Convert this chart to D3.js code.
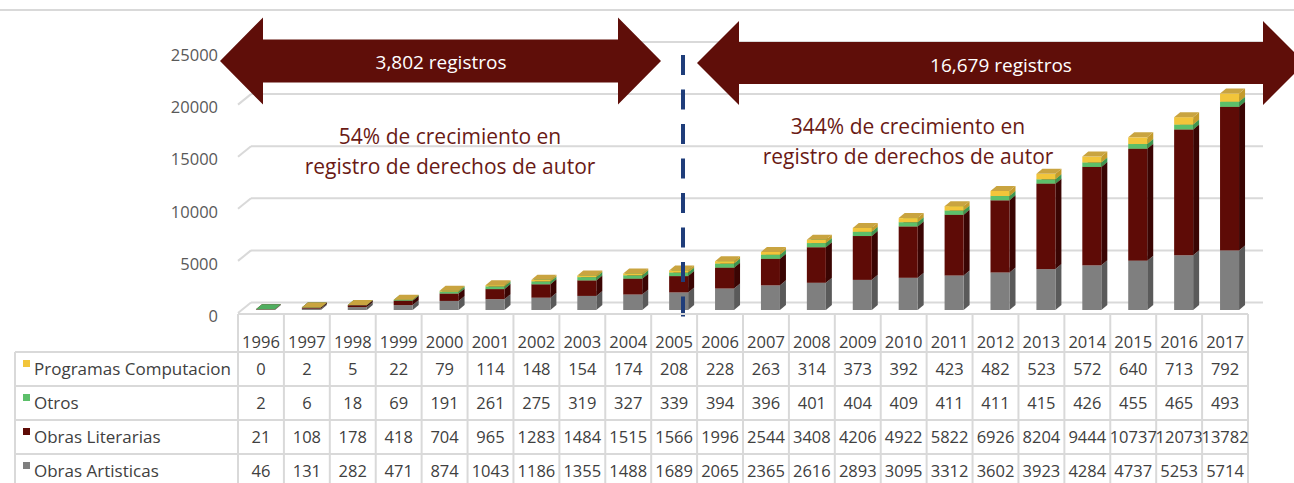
<!DOCTYPE html>
<html><head><meta charset="utf-8">
<script src="https://cdn.jsdelivr.net/npm/d3@7"></script>
<style>html,body{margin:0;padding:0;background:#fff;}svg{display:block;font-family:"Open Sans",sans-serif;}</style>
</head><body>
<svg id="c" width="1294" height="483"></svg>
<script>
const years = ["1996","1997","1998","1999","2000","2001","2002","2003","2004","2005","2006","2007","2008","2009","2010","2011","2012","2013","2014","2015","2016","2017"];
const programas = [0,2,5,22,79,114,148,154,174,208,228,263,314,373,392,423,482,523,572,640,713,792];
const otros = [2,6,18,69,191,261,275,319,327,339,394,396,401,404,409,411,411,415,426,455,465,493];
const literarias = [21,108,178,418,704,965,1283,1484,1515,1566,1996,2544,3408,4206,4922,5822,6926,8204,9444,10737,12073,13782];
const artisticas = [46,131,282,471,874,1043,1186,1355,1488,1689,2065,2365,2616,2893,3095,3312,3602,3923,4284,4737,5253,5714];
const seriesNames = ["Programas Computacion","Otros","Obras Literarias","Obras Artisticas"];
const yTicks = [0,5000,10000,15000,20000,25000];
const arrowLabels = ["3,802 registros","16,679 registros"];
const noteLeft = ["54% de crecimiento en","registro de derechos de autor"];
const noteRight = ["344% de crecimiento en","registro de derechos de autor"];

const svg = d3.select("#c");
const x = d3.scaleBand().domain(years).range([238,1248]).padding(0);
const y = d3.scaleLinear().domain([0,25000]).range([313,52.5]);
const DX = 13, DY = -10.5; // floor depth

// top border line
svg.append("line").attr("x1",0).attr("x2",1294).attr("y1",10).attr("y2",10).attr("stroke","#d9d9d9").attr("stroke-width",2);

// gridlines: back wall + side wall diagonals
const g = svg.append("g").attr("stroke","#d9d9d9").attr("stroke-width",2).attr("fill","none");
yTicks.forEach(t=>{
  g.append("line").attr("x1",x.range()[0]+DX).attr("x2",x.range()[1]+15).attr("y1",y(t)+DY).attr("y2",y(t)+DY);
  g.append("line").attr("x1",x.range()[0]).attr("x2",x.range()[0]+DX).attr("y1",y(t)).attr("y2",y(t)+DY);
});

// y labels
svg.append("g").selectAll("text").data(yTicks).join("text")
  .attr("x",218).attr("y",d=>y(d)+3).attr("dy","0.35em").attr("text-anchor","end")
  .attr("font-size","16.5px").attr("fill","#595959").text(d=>d);

// bars
const stackKeys = ["artisticas","literarias","otros","programas"];
const rows = years.map((yr,i)=>({year:yr, artisticas:artisticas[i], literarias:literarias[i], otros:otros[i], programas:programas[i]}));
const stacked = d3.stack().keys(stackKeys)(rows);
const colors = {
  artisticas:{front:"#7f7f7f", side:"#5a5a5a", top:"#a0a0a0"},
  literarias:{front:"#5e0b06", side:"#3a0503", top:"#7c1d14"},
  otros:{front:"#5cbf6a", side:"#3e9550", top:"#4fae5f"},
  programas:{front:"#f2c53a", side:"#c49b2c", top:"#c9a440"}
};
const bw = 19, bdx = 6, bdy = -5, offX = -5, offY = -3;
const bars = svg.append("g");
years.forEach((yr,i)=>{
  const cx = x(yr) + x.bandwidth()/2;
  const x0 = cx + offX, x1 = x0 + bw;
  stacked.forEach(s=>{
    const c = colors[s.key];
    const y0 = y(s[i][0]) + offY, y1 = y(s[i][1]) + offY;
    if (y0 - y1 <= 0) return;
    bars.append("path").attr("fill",c.side)
      .attr("d",`M${x1},${y0}L${x1+bdx},${y0+bdy}L${x1+bdx},${y1+bdy}L${x1},${y1}Z`);
    bars.append("rect").attr("fill",c.front).attr("x",x0).attr("y",y1).attr("width",bw).attr("height",y0-y1);
    bars.append("path").attr("fill",c.top)
      .attr("d",`M${x0},${y1}L${x0+bdx},${y1+bdy}L${x1+bdx},${y1+bdy}L${x1},${y1}Z`);
  });
});

// dashed divider
svg.append("line").attr("x1",683).attr("x2",683).attr("y1",55).attr("y2",318)
  .attr("stroke","#1f3d7a").attr("stroke-width",4).attr("stroke-dasharray","20,14.5");

// arrows
function dblArrow(xl, xr, cy, headW, headH, shaftH){
  const a = xl+headW, b = xr-headW;
  return `M${xl},${cy}L${a},${cy-headH}L${a},${cy-shaftH}L${b},${cy-shaftH}L${b},${cy-headH}L${xr},${cy}L${b},${cy+headH}L${b},${cy+shaftH}L${a},${cy+shaftH}L${a},${cy+headH}Z`;
}
svg.append("path").attr("fill","#5f0e09").attr("d",dblArrow(220,661,61,43,43.5,21.5));
svg.append("path").attr("fill","#5f0e09").attr("d",dblArrow(697,1305,63,42,42,21));
svg.append("text").attr("x",441).attr("y",62).attr("dy","0.35em").attr("text-anchor","middle")
  .attr("font-size","19px").attr("fill","#fff").text(arrowLabels[0]);
svg.append("text").attr("x",1001).attr("y",65).attr("dy","0.35em").attr("text-anchor","middle")
  .attr("font-size","19px").attr("fill","#fff").text(arrowLabels[1]);

// notes
noteLeft.forEach((t,i)=>svg.append("text").attr("x",450).attr("y",137+i*30).attr("dy","0.35em")
  .attr("text-anchor","middle").attr("font-size","21px").attr("fill","#6a1a15").text(t));
noteRight.forEach((t,i)=>svg.append("text").attr("x",908).attr("y",127+i*30).attr("dy","0.35em")
  .attr("text-anchor","middle").attr("font-size","21px").attr("fill","#6a1a15").text(t));

// data table
const tbl = svg.append("g");
const rowTop = 352, rowH = 34, tableLeft = 15;
const tableSeries = [programas, otros, literarias, artisticas];
const keyColors = ["#f2c53a","#5cbf6a","#5e0b06","#7f7f7f"];
const bc = "#d9d9d9";
// header top line (floor front edge)
tbl.append("line").attr("x1",x.range()[0]).attr("x2",x.range()[1]).attr("y1",314).attr("y2",314).attr("stroke",bc).attr("stroke-width",2);
// horizontal lines
for(let r=0;r<=4;r++){
  tbl.append("line").attr("x1",tableLeft).attr("x2",x.range()[1]).attr("y1",rowTop+r*rowH).attr("y2",rowTop+r*rowH).attr("stroke",bc).attr("stroke-width",2);
}
// verticals
tbl.append("line").attr("x1",tableLeft).attr("x2",tableLeft).attr("y1",rowTop).attr("y2",rowTop+4*rowH).attr("stroke",bc).attr("stroke-width",2);
years.forEach(yr=>{
  tbl.append("line").attr("x1",x(yr)).attr("x2",x(yr)).attr("y1",314).attr("y2",rowTop+4*rowH).attr("stroke",bc).attr("stroke-width",2);
});
tbl.append("line").attr("x1",x.range()[1]).attr("x2",x.range()[1]).attr("y1",314).attr("y2",rowTop+4*rowH).attr("stroke",bc).attr("stroke-width",2);
// year header
tbl.selectAll("text.yr").data(years).join("text").attr("class","yr")
  .attr("x",d=>x(d)+x.bandwidth()/2).attr("y",348).attr("text-anchor","middle")
  .attr("font-size","16.5px").attr("fill","#404040").text(d=>d);
// rows
tableSeries.forEach((vals,r)=>{
  const cy = rowTop + r*rowH + rowH/2;
  tbl.append("rect").attr("x",23).attr("y",rowTop+r*rowH+8).attr("width",7).attr("height",7).attr("fill",keyColors[r]);
  tbl.append("text").attr("x",34).attr("y",cy).attr("dy","0.35em").attr("font-size","17px").attr("fill","#404040").text(seriesNames[r]);
  vals.forEach((v,i)=>{
    tbl.append("text").attr("x",x(years[i])+x.bandwidth()/2).attr("y",cy).attr("dy","0.35em")
      .attr("text-anchor","middle").attr("font-size","16.5px").attr("fill","#404040").text(v);
  });
});
</script>
</body></html>
